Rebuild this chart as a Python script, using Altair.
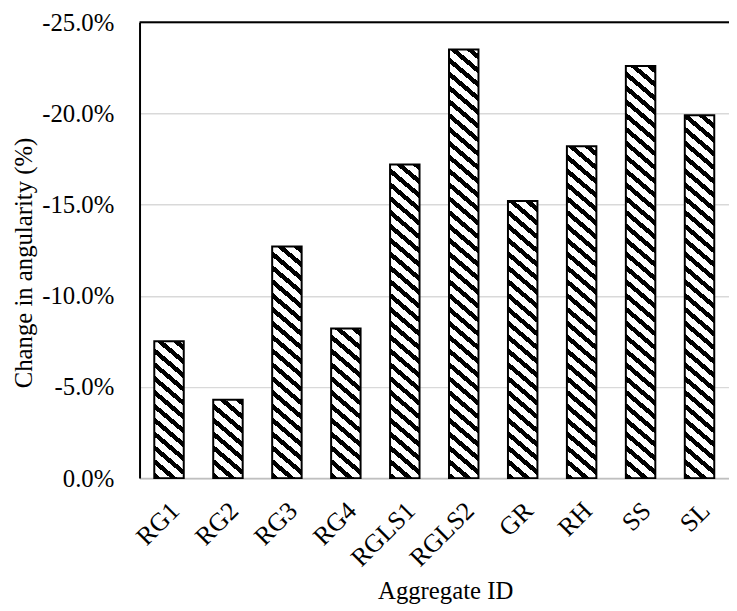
import altair as alt
import pandas as pd

# ---- data ----
categories = ["RG1", "RG2", "RG3", "RG4", "RGLS1", "RGLS2", "GR", "RH", "SS", "SL"]
values_pct = [-7.5, -4.3, -12.7, -8.2, -17.2, -23.5, -15.2, -18.2, -22.6, -19.9]
y_tick_pct = [-25, -20, -15, -10, -5, 0]

df = pd.DataFrame({"id": categories, "change": [v / 100 for v in values_pct]})
top_df = pd.DataFrame({"change": [min(y_tick_pct) / 100]})

# ---- layout / style ----
W_PLOT, H_PLOT = 596, 461
PAD_IN, PAD_OUT = 0.5, 0.25
FONT = "Liberation Serif"
step = W_PLOT / (len(categories) - PAD_IN + 2 * PAD_OUT)
BW = step * (1 - PAD_IN)
SLOPE, PERIOD, BLACK = 0.85, 14, 0.42
YMIN = min(y_tick_pct) / 100
LABEL_ANGLE = 315


def hatch(v):
    """Diagonal stripe fill built as a hard-stop linear gradient."""
    H = abs(v) / abs(YMIN) * H_PLOT
    W = BW
    L = SLOPE * W + H
    s = L / (SLOPE ** 2 * W ** 2 + H ** 2)
    stops = []
    k = 0
    while k * PERIOD < L:
        a0 = k * PERIOD / L
        a1 = min((k * PERIOD + BLACK * PERIOD) / L, 1)
        a2 = min((k + 1) * PERIOD / L, 1)
        stops += [
            {"offset": a0, "color": "black"},
            {"offset": a1, "color": "black"},
            {"offset": a1, "color": "white"},
            {"offset": a2, "color": "white"},
        ]
        k += 1
    return {"gradient": "linear", "x1": 0, "y1": 1,
            "x2": s * SLOPE * W, "y2": 1 - s * H, "stops": stops}


x_axis = alt.Axis(
    title="Aggregate ID", labels=False, ticks=False,
    domainColor="#bfbfbf", domainWidth=2,
    titleFont=FONT, titleFontSize=25, titleFontWeight="normal", titleColor="black",
    titleX=309, titleY=122, titleBaseline="alphabetic", titleAlign="center",
)
y_axis = alt.Axis(
    title="Change in angularity (%)", values=[t / 100 for t in y_tick_pct],
    labelExpr="(datum.value < 0 ? '-' : '') + format(abs(datum.value), '.1%')",
    grid=True, gridColor="#d9d9d9", gridWidth=1.5, ticks=False,
    domainColor="black", domainWidth=2,
    labelFont=FONT, labelFontSize=25, labelColor="black", labelPadding=26,
    titleFont=FONT, titleFontSize=25, titleFontWeight="normal", titleColor="black",
    titleX=-104, titleY=243, titleBaseline="bottom", titleAlign="center", titleAngle=270,
)
x_scale = alt.Scale(domain=categories, paddingInner=PAD_IN, paddingOuter=PAD_OUT)
y_scale = alt.Scale(domain=[YMIN, 0], reverse=True, nice=False, zero=False)

x_enc = alt.X("id:N", scale=x_scale, axis=x_axis)

layers = []
for c, v in zip(categories, values_pct):
    layers.append(
        alt.Chart(df).transform_filter(alt.datum.id == c).mark_bar(
            fill=hatch(v / 100), stroke="black", strokeWidth=2
        ).encode(
            x=x_enc,
            y=alt.Y("change:Q", scale=y_scale, axis=y_axis),
        )
    )

# category labels, rotated like the reference
labels = alt.Chart(df).transform_calculate(
    zero="0", ang=str(LABEL_ANGLE)
).mark_text(
    align="right", baseline="middle", dx=-16, dy=25,
    font=FONT, fontSize=26, color="black",
).encode(
    x=x_enc,
    y=alt.Y("zero:Q", scale=y_scale, axis=y_axis),
    text="id:N",
    angle=alt.Angle("ang:Q", scale=None),
)

top_rule = alt.Chart(top_df).mark_rule(color="black", strokeWidth=2).encode(
    y=alt.Y("change:Q", scale=y_scale, axis=y_axis)
)

chart = alt.layer(*layers, labels, top_rule).properties(
    width=W_PLOT, height=H_PLOT,
    autosize=alt.AutoSizeParams(type="none"),
    padding={"left": 133, "top": 11, "right": 0, "bottom": 131},
).configure_view(stroke=None).configure(background="white")

chart.save("out.html", embed_options={"renderer": "svg", "actions": False})
